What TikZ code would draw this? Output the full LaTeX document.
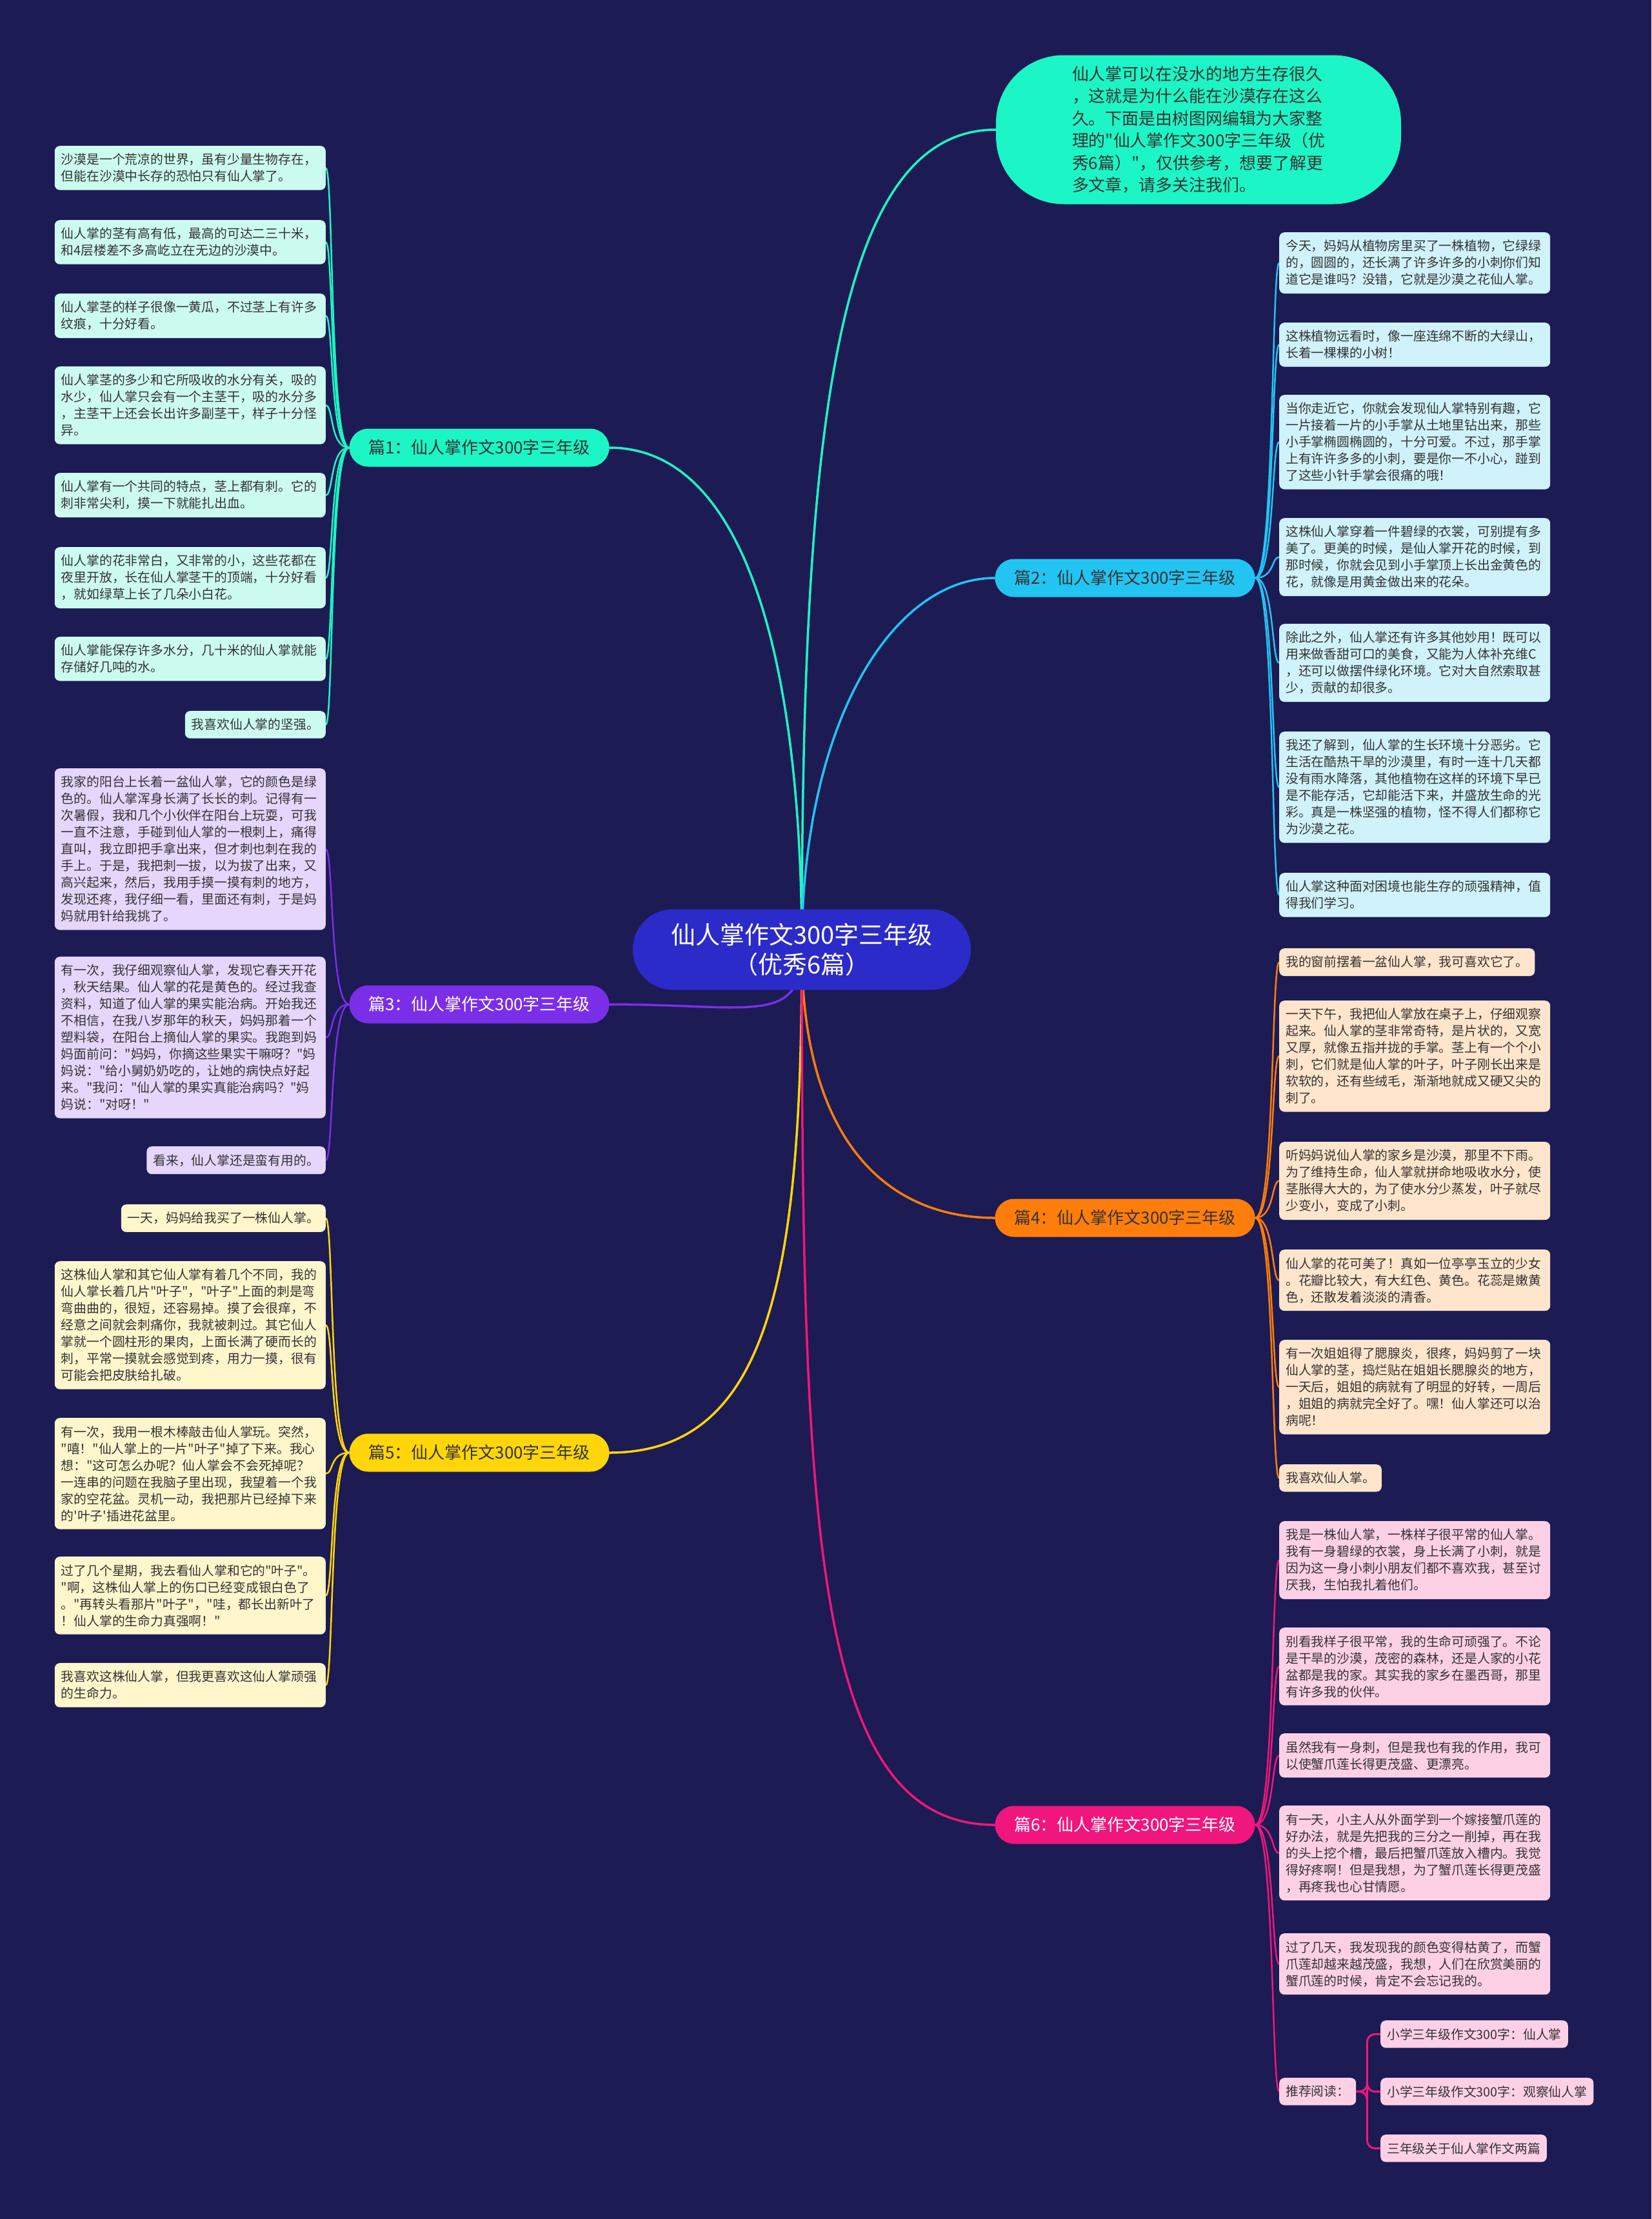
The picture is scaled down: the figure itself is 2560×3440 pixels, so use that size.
\documentclass[tikz,border=0pt]{standalone}
\usepackage{fontspec}
\newfontfamily\cjkf{Noto Sans CJK SC}
\usetikzlibrary{calc}
\definecolor{bgc}{HTML}{1C1B54}
\definecolor{txt}{HTML}{333333}
\definecolor{cen}{HTML}{2B2BC9}
\definecolor{c1}{HTML}{1CF5C5}
\definecolor{c2}{HTML}{22C4F2}
\definecolor{c3}{HTML}{7A2EE8}
\definecolor{c4}{HTML}{FF7D0A}
\definecolor{c5}{HTML}{FFD60A}
\definecolor{c6}{HTML}{F0167D}
\definecolor{l1}{HTML}{CCFBEF}
\definecolor{l2}{HTML}{CFF2FB}
\definecolor{l3}{HTML}{E6D6FC}
\definecolor{l4}{HTML}{FFE5CC}
\definecolor{l5}{HTML}{FFF6CC}
\definecolor{l6}{HTML}{FDD0E6}
\newcommand\leaffnt{\cjkf\fontsize{19.8}{26}\selectfont}
\newcommand\brfnt{\cjkf\fontsize{26}{30}\selectfont}
\pgfdeclarelayer{back}
\pgfdeclarelayer{links}
\pgfsetlayers{back,links,main}
\begin{document}
\begin{tikzpicture}[x=1pt,y=-1pt,
  leaf/.style={rounded corners=8pt, text width=400pt, inner xsep=10pt, inner ysep=12pt, align=left, font=\leaffnt, text=txt},
  shortleaf/.style={rounded corners=8pt, inner xsep=10pt, inner ysep=12pt, font=\leaffnt, text=txt},
  brn/.style={rounded corners=29.5pt, minimum width=403pt, minimum height=59pt, inner sep=0pt, font=\brfnt, text=txt},
  mk/.style={line width=3.5pt, line cap=round},
  lk/.style={line width=2.5pt, line cap=round}]
\begin{pgfonlayer}{back}
\fill[bgc] (0,0) rectangle (2560,3440);
\end{pgfonlayer}
\useasboundingbox (0,0) rectangle (2560,3440);

% centre
\node[fill=cen, text=white, rounded corners=62pt, minimum width=524pt, minimum height=125pt, align=center, font=\cjkf\fontsize{38}{46}\selectfont] (c) at (1243,1472) {仙人掌作文300字三年级\\（优秀6篇）};

% intro
\node[fill=c1, rounded corners=105pt, minimum width=628pt, minimum height=231pt, text width=392pt, align=left, text=txt, font=\cjkf\fontsize{25.9}{34.4}\selectfont] (intro) at (1858,201) {仙人掌可以在没水的地方生存很久\\，这就是为什么能在沙漠存在这么\\久。下面是由树图网编辑为大家整\\理的"仙人掌作文300字三年级（优\\秀6篇）"，仅供参考，想要了解更\\多文章，请多关注我们。};

% branches
\node[brn, fill=c1] (b1) at (743,694) {篇1：仙人掌作文300字三年级};
\node[brn, fill=c2] (b2) at (1744,896) {篇2：仙人掌作文300字三年级};
\node[brn, fill=c3, text=white] (b3) at (743,1557) {篇3：仙人掌作文300字三年级};
\node[brn, fill=c4] (b4) at (1744,1888) {篇4：仙人掌作文300字三年级};
\node[brn, fill=c5] (b5) at (743,2252) {篇5：仙人掌作文300字三年级};
\node[brn, fill=c6, text=white] (b6) at (1744,2829) {篇6：仙人掌作文300字三年级};

% branch 1 leaves
\node[leaf, fill=l1, anchor=north east] (l1a) at (505,226) {沙漠是一个荒凉的世界，虽有少量生物存在，\\但能在沙漠中长存的恐怕只有仙人掌了。};
\node[leaf, fill=l1, anchor=north east] (l1b) at (505,341) {仙人掌的茎有高有低，最高的可达二三十米，\\和4层楼差不多高屹立在无边的沙漠中。};
\node[leaf, fill=l1, anchor=north east] (l1c) at (505,455) {仙人掌茎的样子很像一黄瓜，不过茎上有许多\\纹痕，十分好看。};
\node[leaf, fill=l1, anchor=north east] (l1d) at (505,568) {仙人掌茎的多少和它所吸收的水分有关，吸的\\水少，仙人掌只会有一个主茎干，吸的水分多\\，主茎干上还会长出许多副茎干，样子十分怪\\异。};
\node[leaf, fill=l1, anchor=north east] (l1e) at (505,733) {仙人掌有一个共同的特点，茎上都有刺。它的\\刺非常尖利，摸一下就能扎出血。};
\node[leaf, fill=l1, anchor=north east] (l1f) at (505,848) {仙人掌的花非常白，又非常的小，这些花都在\\夜里开放，长在仙人掌茎干的顶端，十分好看\\，就如绿草上长了几朵小白花。};
\node[leaf, fill=l1, anchor=north east] (l1g) at (505,987) {仙人掌能保存许多水分，几十米的仙人掌就能\\存储好几吨的水。};
\node[shortleaf, fill=l1, anchor=north east] (l1h) at (505,1102) {我喜欢仙人掌的坚强。};

% branch 2 leaves
\node[leaf, fill=l2, anchor=north west] (r2a) at (1983,360) {今天，妈妈从植物房里买了一株植物，它绿绿\\的，圆圆的，还长满了许多许多的小刺你们知\\道它是谁吗？没错，它就是沙漠之花仙人掌。};
\node[leaf, fill=l2, anchor=north west] (r2b) at (1983,500) {这株植物远看时，像一座连绵不断的大绿山，\\长着一棵棵的小树！};
\node[leaf, fill=l2, anchor=north west] (r2c) at (1983,612) {当你走近它，你就会发现仙人掌特别有趣，它\\一片接着一片的小手掌从土地里钻出来，那些\\小手掌椭圆椭圆的，十分可爱。不过，那手掌\\上有许许多多的小刺，要是你一不小心，踫到\\了这些小针手掌会很痛的哦！};
\node[leaf, fill=l2, anchor=north west] (r2d) at (1983,803) {这株仙人掌穿着一件碧绿的衣裳，可别提有多\\美了。更美的时候，是仙人掌开花的时候，到\\那时候，你就会见到小手掌顶上长出金黄色的\\花，就像是用黄金做出来的花朵。};
\node[leaf, fill=l2, anchor=north west] (r2e) at (1983,967) {除此之外，仙人掌还有许多其他妙用！既可以\\用来做香甜可口的美食，又能为人体补充维C\\，还可以做摆件绿化环境。它对大自然索取甚\\少，贡献的却很多。};
\node[leaf, fill=l2, anchor=north west] (r2f) at (1983,1134) {我还了解到，仙人掌的生长环境十分恶劣。它\\生活在酷热干旱的沙漠里，有时一连十几天都\\没有雨水降落，其他植物在这样的环境下早已\\是不能存活，它却能活下来，并盛放生命的光\\彩。真是一株坚强的植物，怪不得人们都称它\\为沙漠之花。};
\node[leaf, fill=l2, anchor=north west] (r2g) at (1983,1353) {仙人掌这种面对困境也能生存的顽强精神，值\\得我们学习。};

% branch 3 leaves
\node[leaf, fill=l3, anchor=north east] (l3a) at (505,1191) {我家的阳台上长着一盆仙人掌，它的颜色是绿\\色的。仙人掌浑身长满了长长的刺。记得有一\\次暑假，我和几个小伙伴在阳台上玩耍，可我\\一直不注意，手碰到仙人掌的一根刺上，痛得\\直叫，我立即把手拿出来，但才刺也刺在我的\\手上。于是，我把刺一拔，以为拔了出来，又\\高兴起来，然后，我用手摸一摸有刺的地方，\\发现还疼，我仔细一看，里面还有刺，于是妈\\妈就用针给我挑了。};
\node[leaf, fill=l3, anchor=north east] (l3b) at (505,1483) {有一次，我仔细观察仙人掌，发现它春天开花\\，秋天结果。仙人掌的花是黄色的。经过我查\\资料，知道了仙人掌的果实能治病。开始我还\\不相信，在我八岁那年的秋天，妈妈那着一个\\塑料袋，在阳台上摘仙人掌的果实。我跑到妈\\妈面前问："妈妈，你摘这些果实干嘛呀？"妈\\妈说："给小舅奶奶吃的，让她的病快点好起\\来。"我问："仙人掌的果实真能治病吗？"妈\\妈说："对呀！"};
\node[shortleaf, fill=l3, anchor=north east] (l3c) at (505,1777) {看来，仙人掌还是蛮有用的。};

% branch 4 leaves
\node[shortleaf, fill=l4, anchor=north west] (r4a) at (1983,1470) {我的窗前摆着一盆仙人掌，我可喜欢它了。};
\node[leaf, fill=l4, anchor=north west] (r4b) at (1983,1551) {一天下午，我把仙人掌放在桌子上，仔细观察\\起来。仙人掌的茎非常奇特，是片状的，又宽\\又厚，就像五指并拢的手掌。茎上有一个个小\\刺，它们就是仙人掌的叶子，叶子刚长出来是\\软软的，还有些绒毛，渐渐地就成又硬又尖的\\刺了。};
\node[leaf, fill=l4, anchor=north west] (r4c) at (1983,1770) {听妈妈说仙人掌的家乡是沙漠，那里不下雨。\\为了维持生命，仙人掌就拼命地吸收水分，使\\茎胀得大大的，为了使水分少蒸发，叶子就尽\\少变小，变成了小刺。};
\node[leaf, fill=l4, anchor=north west] (r4d) at (1983,1937) {仙人掌的花可美了！真如一位亭亭玉立的少女\\。花瓣比较大，有大红色、黄色。花蕊是嫩黄\\色，还散发着淡淡的清香。};
\node[leaf, fill=l4, anchor=north west] (r4e) at (1983,2077) {有一次姐姐得了腮腺炎，很疼，妈妈剪了一块\\仙人掌的茎，捣烂贴在姐姐长腮腺炎的地方，\\一天后，姐姐的病就有了明显的好转，一周后\\，姐姐的病就完全好了。嘿！仙人掌还可以治\\病呢！};
\node[shortleaf, fill=l4, anchor=north west] (r4f) at (1983,2270) {我喜欢仙人掌。};

% branch 5 leaves
\node[shortleaf, fill=l5, anchor=north east] (l5a) at (505,1867) {一天，妈妈给我买了一株仙人掌。};
\node[leaf, fill=l5, anchor=north east] (l5b) at (505,1955) {这株仙人掌和其它仙人掌有着几个不同，我的\\仙人掌长着几片"叶子"，"叶子"上面的刺是弯\\弯曲曲的，很短，还容易掉。摸了会很痒，不\\经意之间就会刺痛你，我就被刺过。其它仙人\\掌就一个圆柱形的果肉，上面长满了硬而长的\\刺，平常一摸就会感觉到疼，用力一摸，很有\\可能会把皮肤给扎破。};
\node[leaf, fill=l5, anchor=north east] (l5c) at (505,2198) {有一次，我用一根木棒敲击仙人掌玩。突然，\\"嘻！"仙人掌上的一片"叶子"掉了下来。我心\\想："这可怎么办呢？仙人掌会不会死掉呢？\\一连串的问题在我脑子里出现，我望着一个我\\家的空花盆。灵机一动，我把那片已经掉下来\\的'叶子'插进花盆里。};
\node[leaf, fill=l5, anchor=north east] (l5d) at (505,2413) {过了几个星期，我去看仙人掌和它的"叶子"。\\"啊，这株仙人掌上的伤口已经变成银白色了\\。"再转头看那片"叶子"，"哇，都长出新叶了\\！仙人掌的生命力真强啊！"};
\node[leaf, fill=l5, anchor=north east] (l5e) at (505,2578) {我喜欢这株仙人掌，但我更喜欢这仙人掌顽强\\的生命力。};

% branch 6 leaves
\node[leaf, fill=l6, anchor=north west] (r6a) at (1983,2358) {我是一株仙人掌，一株样子很平常的仙人掌。\\我有一身碧绿的衣裳，身上长满了小刺，就是\\因为这一身小刺小朋友们都不喜欢我，甚至讨\\厌我，生怕我扎着他们。};
\node[leaf, fill=l6, anchor=north west] (r6b) at (1983,2523) {别看我样子很平常，我的生命可顽强了。不论\\是干旱的沙漠，茂密的森林，还是人家的小花\\盆都是我的家。其实我的家乡在墨西哥，那里\\有许多我的伙伴。};
\node[leaf, fill=l6, anchor=north west] (r6c) at (1983,2687) {虽然我有一身刺，但是我也有我的作用，我可\\以使蟹爪莲长得更茂盛、更漂亮。};
\node[leaf, fill=l6, anchor=north west] (r6d) at (1983,2799) {有一天，小主人从外面学到一个嫁接蟹爪莲的\\好办法，就是先把我的三分之一削掉，再在我\\的头上挖个槽，最后把蟹爪莲放入槽内。我觉\\得好疼啊！但是我想，为了蟹爪莲长得更茂盛\\，再疼我也心甘情愿。};
\node[leaf, fill=l6, anchor=north west] (r6e) at (1983,2997) {过了几天，我发现我的颜色变得枯黄了，而蟹\\爪莲却越来越茂盛，我想，人们在欣赏美丽的\\蟹爪莲的时候，肯定不会忘记我的。};
\node[shortleaf, fill=l6, anchor=north west] (r6f) at (1983,3221) {推荐阅读：};
\node[shortleaf, fill=l6, anchor=north west] (s1) at (2140,3132) {小学三年级作文300字：仙人掌};
\node[shortleaf, fill=l6, anchor=north west] (s2) at (2140,3221) {小学三年级作文300字：观察仙人掌};
\node[shortleaf, fill=l6, anchor=north west] (s3) at (2140,3309) {三年级关于仙人掌作文两篇};

\begin{pgfonlayer}{links}
% main connectors
\draw[mk, c1] (c.center) .. controls +(0,-800) and +(-250,0) .. (intro.west);
\draw[mk, c1] (c.center) .. controls +(0,-420) and +(220,0) .. (b1.east);
\draw[mk, c2] (c.center) .. controls +(0,-350) and +(-160,0) .. (b2.west);
\draw[mk, c3] (c.center) .. controls +(0,120) and +(220,0) .. (b3.east);
\draw[mk, c4] (c.center) .. controls +(0,280) and +(-180,0) .. (b4.west);
\draw[mk, c5] (c.center) .. controls +(0,500) and +(250,0) .. (b5.east);
\draw[mk, c6] (c.center) .. controls +(0,900) and +(-280,0) .. (b6.west);
% leaf connectors
\foreach \n in {l1a,l1b,l1c,l1d,l1e,l1f,l1g,l1h}
  \draw[lk, c1] (b1.west) .. controls +(-30,0) and +(12,0) .. (\n.east);
\foreach \n in {r2a,r2b,r2c,r2d,r2e,r2f,r2g}
  \draw[lk, c2] (b2.east) .. controls +(30,0) and +(-12,0) .. (\n.west);
\foreach \n in {l3a,l3b,l3c}
  \draw[lk, c3] (b3.west) .. controls +(-30,0) and +(12,0) .. (\n.east);
\foreach \n in {r4a,r4b,r4c,r4d,r4e,r4f}
  \draw[lk, c4] (b4.east) .. controls +(30,0) and +(-12,0) .. (\n.west);
\foreach \n in {l5a,l5b,l5c,l5d,l5e}
  \draw[lk, c5] (b5.west) .. controls +(-30,0) and +(12,0) .. (\n.east);
\foreach \n in {r6a,r6b,r6c,r6d,r6e,r6f}
  \draw[lk, c6] (b6.east) .. controls +(30,0) and +(-12,0) .. (\n.west);
\foreach \n in {s1,s2,s3}
  \draw[lk, c6, line width=3pt, rounded corners=12pt] (r6f.east) -- ++(17,0) |- (\n.west);
\end{pgfonlayer}
\end{tikzpicture}
\end{document}
